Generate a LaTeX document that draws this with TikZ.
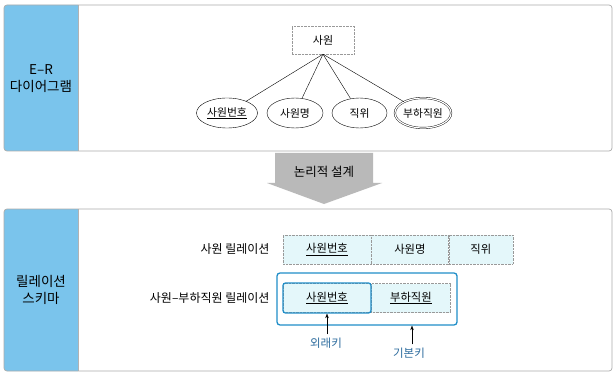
\documentclass[tikz,border=0pt]{standalone}
\usepackage{fontspec}
\setmainfont{Noto Sans CJK KR}
\usetikzlibrary{arrows.meta,positioning,calc,shapes.geometric,fit}
\definecolor{band}{RGB}{122,196,236}
\definecolor{cellbg}{RGB}{228,247,250}
\definecolor{keyline}{RGB}{32,142,200}
\definecolor{keytxt}{RGB}{45,108,158}
\tikzset{
  panel/.style={draw=gray!65,rounded corners=3pt,line width=0.7pt,inner sep=0pt},
  sidelbl/.style={align=center,font=\fontsize{13.5}{17}\selectfont},
  ent/.style={draw=gray!80,densely dotted,minimum width=62pt,minimum height=28pt,inner sep=0pt,font=\fontsize{11}{12}\selectfont},
  attr/.style={draw,ellipse,minimum height=30pt,inner sep=0pt,font=\fontsize{10.8}{12}\selectfont},
  link/.style={thin},
  cell/.style={draw=gray!80,densely dotted,fill=cellbg,minimum height=29pt,inner sep=0pt,font=\fontsize{11.3}{12}\selectfont},
  keybox/.style={draw=keyline,line width=1.3pt,rounded corners=2.5pt,inner sep=0pt},
  rowlbl/.style={anchor=east,font=\fontsize{12}{13}\selectfont},
  keylbl/.style={text=keytxt,font=\fontsize{11.5}{12}\selectfont},
  arr/.style={-{Stealth[length=4.5pt,width=3.5pt]},thin}
}
\begin{document}
\begin{tikzpicture}[x=1pt,y=-1pt]
\useasboundingbox[fill=white] (0,0) rectangle (616,377);
% side bands
\fill[band,rounded corners=3pt] (78,5) -- (4,5) -- (4,151) -- (78,151);
\fill[band,rounded corners=3pt] (78,209) -- (4,209) -- (4,371) -- (78,371);
\draw[gray!60,thin] (78,5) -- (78,151);
\draw[gray!60,thin] (78,209) -- (78,371);
% panels
\node[panel,minimum width=608pt,minimum height=146pt] (P1) at (308,78) {};
\node[panel,minimum width=608pt,minimum height=162pt] (P2) at (308,290) {};
\node[sidelbl] (L1) at (41,79) {E–R\\다이어그램};
\node[sidelbl] (L2) at (41,290) {릴레이션\\스키마};
% E-R diagram
\node[ent] (emp) at (323,40) {사원};
\node[attr,minimum width=61pt] (a1) at (227,113) {\underline{사원번호}};
\node[attr,minimum width=56pt] (a2) at (295,113) {사원명};
\node[attr,minimum width=55pt] (a3) at (359.5,113) {직위};
\node[attr,minimum width=56pt,double,double distance=1.2pt] (a4) at (423,113) {부하직원};
\foreach \a in {a1,a2,a3,a4} \draw[link] (emp.south) -- (\a);
% logical design arrow
\fill[gray!55] (275,153) -- (373,153) -- (373,183) -- (382,183) -- (324,204) -- (267,183) -- (275,183) -- cycle;
\node[font=\fontsize{12.5}{13}\selectfont] (lg) at (324,172) {논리적 설계};
% relation schema
\node[cell,minimum width=88pt] (r1) at (327,249.5) {\underline{사원번호}};
\node[cell,minimum width=77pt,right=0pt of r1] (r2) {사원명};
\node[cell,minimum width=64pt,right=0pt of r2] (r3) {직위};
\node[rowlbl] (t1) at (273,249.5) {사원 릴레이션};
\node[cell,minimum width=88pt] (s1) at (327,298) {\underline{사원번호}};
\node[cell,minimum width=79pt,right=0pt of s1] (s2) {\underline{부하직원}};
\node[rowlbl] (t2) at (273,298) {사원–부하직원 릴레이션};
\node[keybox,minimum width=88pt,minimum height=30pt] (fk) at (s1) {};
\node[keybox,minimum width=180pt,minimum height=52pt,rounded corners=3pt] (pk) at (367,299) {};
% key labels
\node[keylbl] (fkl) at (326,343) {외래키};
\node[keylbl] (pkl) at (409,353) {기본키};
\draw[arr] ($(fkl.north)+(1,0)$) -- ($(fkl.north |- fk.south)+(1,0)$);
\draw[arr] ($(pkl.north)+(3,0)$) -- ($(pkl.north |- pk.south)+(3,0)$);
\end{tikzpicture}
\end{document}
